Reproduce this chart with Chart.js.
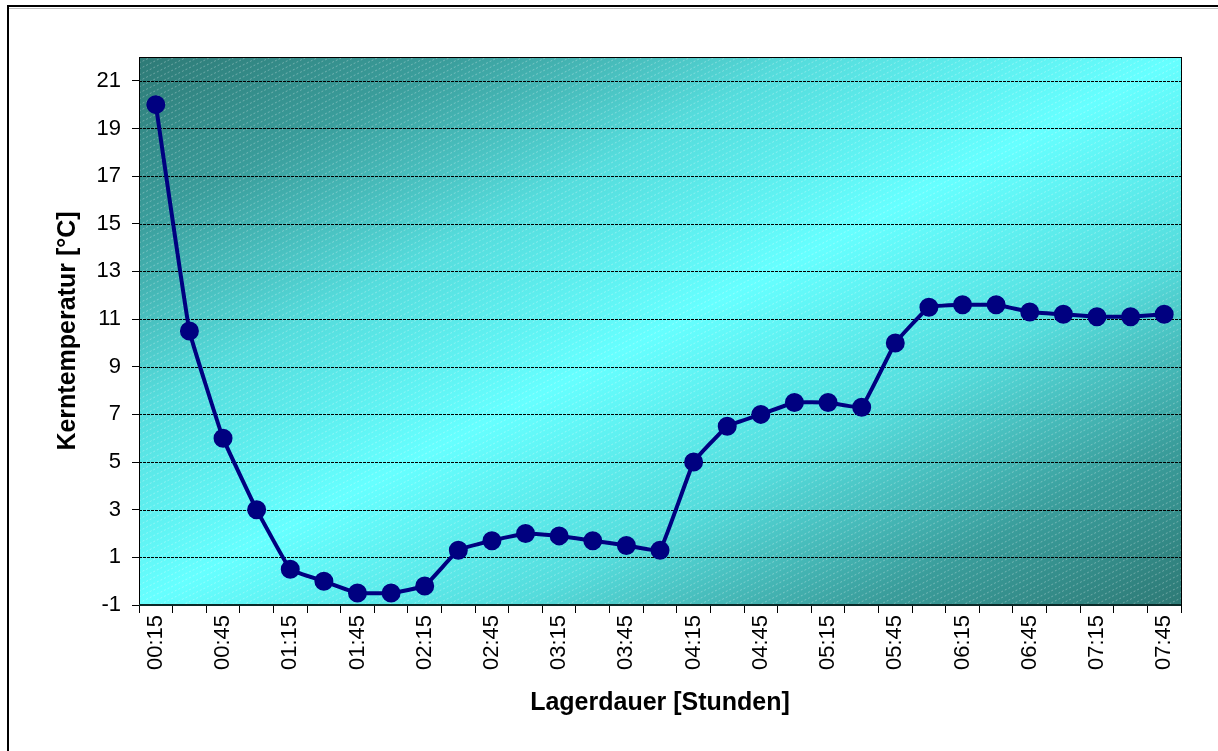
<!DOCTYPE html>
<html>
<head>
<meta charset="utf-8">
<script src="https://cdn.jsdelivr.net/npm/chart.js@4/dist/chart.umd.min.js"></script>
<style>
  html, body { margin: 0; padding: 0; background: #fff; }
  #wrap { width: 1218px; height: 751px; position: relative; }
</style>
</head>
<body>
<div id="wrap"><canvas id="c" width="1218" height="751"></canvas></div>
<script>
// ---- data ----
const categories = [
  '00:15','00:30','00:45','01:00','01:15','01:30','01:45','02:00','02:15','02:30',
  '02:45','03:00','03:15','03:30','03:45','04:00','04:15','04:30','04:45','05:00',
  '05:15','05:30','05:45','06:00','06:15','06:30','06:45','07:00','07:15','07:30','07:45'
];
const kerntemperatur = [
  20.0, 10.5, 6.0, 3.0, 0.5, 0.0, -0.5, -0.5, -0.2, 1.3,
  1.7, 2.0, 1.9, 1.7, 1.5, 1.3, 5.0, 6.5, 7.0, 7.5,
  7.5, 7.3, 10.0, 11.5, 11.6, 11.6, 11.3, 11.2, 11.1, 11.1, 11.2
];
const yTickValues = [-1, 1, 3, 5, 7, 9, 11, 13, 15, 17, 19, 21];
const yMin = -1;
const yMax = 22;
const xTitle = 'Lagerdauer [Stunden]';
const yTitle = 'Kerntemperatur [°C]';

const FONT = '"Liberation Sans", Arial, sans-serif';

const bgPlugin = {
  id: 'bg',
  beforeDraw(chart) {
    const ctx = chart.ctx;
    const a = chart.chartArea;
    ctx.save();
    ctx.fillStyle = '#fff';
    ctx.fillRect(0, 0, chart.width, chart.height);
    // outer frame (cut off at right/bottom)
    ctx.strokeStyle = '#000';
    ctx.lineWidth = 2;
    ctx.strokeRect(8, 6, 1240, 780);
    ctx.strokeStyle = 'rgba(0,0,0,0.25)';
    ctx.lineWidth = 1;
    ctx.beginPath();
    ctx.moveTo(9, 8.5); ctx.lineTo(1218, 8.5);
    ctx.stroke();

    // plot-area gradient: dark corners TL/BR, light band along the anti-diagonal
    const W = a.right - a.left, H = a.bottom - a.top;
    const cx = (a.left + a.right) / 2, cy = (a.top + a.bottom) / 2;
    const len = Math.hypot(W, H);
    const nx = H / len, ny = W / len;
    const t = (W / 2) * nx + (H / 2) * ny;
    const g = ctx.createLinearGradient(cx - nx * t, cy - ny * t, cx + nx * t, cy + ny * t);
    g.addColorStop(0, '#2e7a76');
    g.addColorStop(0.15, '#3a9d9b');
    g.addColorStop(0.32, '#55dcdc');
    g.addColorStop(0.5, '#66ffff');
    g.addColorStop(0.68, '#55dcdc');
    g.addColorStop(0.85, '#3a9d9b');
    g.addColorStop(1, '#2e7a76');
    ctx.fillStyle = g;
    ctx.fillRect(a.left, a.top, W, H);

    // hatch
    ctx.beginPath();
    ctx.rect(a.left, a.top, W, H);
    ctx.clip();
    ctx.strokeStyle = 'rgba(255,255,255,0.3)';
    ctx.lineWidth = 1;
    ctx.setLineDash([2, 2]);
    ctx.beginPath();
    const slope = 0.5;
    for (let y0 = a.top; y0 < a.bottom + W * slope + 10; y0 += 6) {
      ctx.moveTo(a.left, y0);
      ctx.lineTo(a.right, y0 - W * slope);
    }
    ctx.stroke();
    ctx.restore();
  },
  beforeDatasetsDraw(chart) {
    const ctx = chart.ctx;
    const a = chart.chartArea;
    const ys = chart.scales.y;
    ctx.save();
    ctx.strokeStyle = '#000';
    ctx.lineWidth = 1;
    ctx.setLineDash([3, 1]);
    ys.ticks.forEach(tk => {
      if (tk.value === yMin) return;
      const py = Math.round(ys.getPixelForValue(tk.value)) + 0.5;
      ctx.beginPath();
      ctx.moveTo(a.left, py);
      ctx.lineTo(a.right, py);
      ctx.stroke();
    });
    ctx.setLineDash([]);
    ctx.strokeStyle = '#000';
    ctx.lineWidth = 1;
    ctx.strokeRect(Math.round(a.left) + 0.5, Math.round(a.top) + 0.5, a.right - a.left, a.bottom - a.top);
    ctx.strokeStyle = '#0a2a28';
    ctx.lineWidth = 2;
    ctx.beginPath();
    ctx.moveTo(a.left, Math.round(a.bottom));
    ctx.lineTo(a.right, Math.round(a.bottom));
    ctx.stroke();
    ctx.restore();
  }
};

new Chart(document.getElementById('c'), {
  type: 'line',
  data: {
    labels: categories,
    datasets: [{
      data: kerntemperatur,
      borderColor: '#000080',
      backgroundColor: '#000080',
      borderWidth: 4,
      pointRadius: 7.5,
      pointHoverRadius: 7.5,
      pointBackgroundColor: '#000080',
      pointBorderColor: '#000080',
      tension: 0.08,
      fill: false
    }]
  },
  options: {
    responsive: false,
    animation: false,
    events: [],
    layout: { padding: { left: 0, right: 37, top: 57, bottom: 0 } },
    plugins: { legend: { display: false }, tooltip: { enabled: false } },
    scales: {
      x: {
        type: 'category',
        offset: true,
        afterFit(s) { s.height = 146; },
        grid: { display: true, offset: true, drawOnChartArea: false, drawTicks: true, tickLength: 8, color: '#000', lineWidth: 1 },
        border: { display: false },
        ticks: {
          autoSkip: false,
          maxRotation: 90, minRotation: 90,
          padding: 2,
          color: '#000',
          font: { family: FONT, size: 22 },
          callback(v, i) { return i % 2 === 0 ? categories[i] : ''; }
        },
        title: {
          display: true, text: xTitle, color: '#000',
          font: { family: FONT, size: 25, weight: 'bold' },
          padding: { top: 0, bottom: 33 }
        }
      },
      y: {
        min: yMin, max: yMax,
        afterFit(s) { s.width = 139; },
        afterBuildTicks(s) { s.ticks = yTickValues.map(v => ({ value: v })); },
        grid: { display: true, drawOnChartArea: false, drawTicks: true, tickLength: 7, color: '#000', lineWidth: 1 },
        border: { display: false },
        ticks: {
          padding: 11,
          color: '#000',
          font: { family: FONT, size: 22 }
        },
        title: {
          display: true, text: yTitle, color: '#000',
          font: { family: FONT, size: 25, weight: 'bold' },
          padding: { top: 53, bottom: 0 }
        }
      }
    }
  },
  plugins: [bgPlugin]
});
</script>
</body>
</html>
